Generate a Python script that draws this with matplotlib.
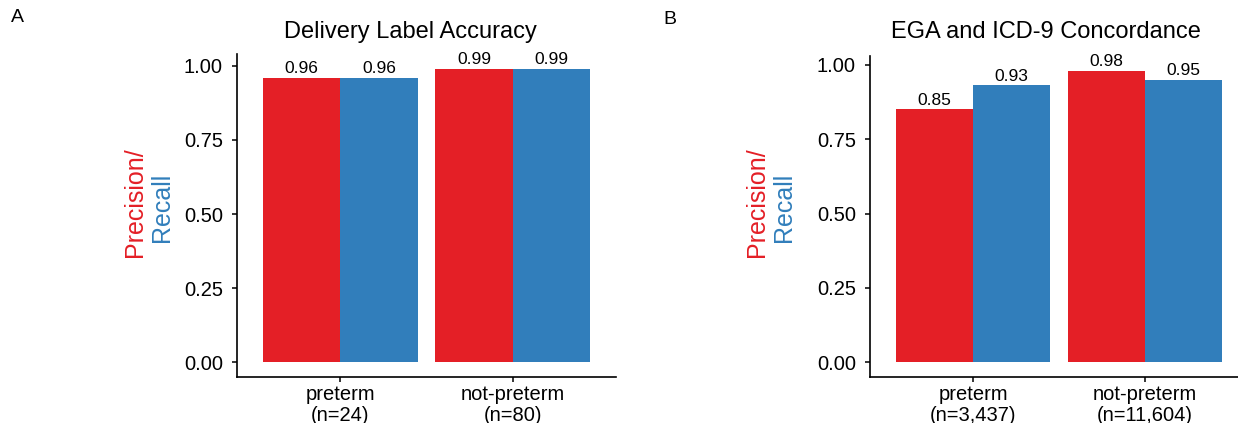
import matplotlib.pyplot as plt
import numpy as np

plt.rcParams['font.family'] = ['Liberation Sans', 'DejaVu Sans']

# Data to plot
categories_a = ["preterm\n(n=24)", "not-preterm\n(n=80)"]
precision_a = [0.96, 0.99]
recall_a = [0.96, 0.99]

categories_b = ["preterm\n(n=3,437)", "not-preterm\n(n=11,604)"]
precision_b = [0.85, 0.98]
recall_b = [0.93, 0.95]

RED = "#E41F26"
BLUE = "#317EBB"
W, H = 1238, 423


def DrawPanel(rect, title, title_x, cats, prec, rec, ylabel_x):
    ax = fig.add_axes(rect)
    x = np.arange(len(cats))
    ax.bar(x - 0.225, prec, width=0.45, color=RED)
    ax.bar(x + 0.225, rec, width=0.45, color=BLUE)

    # value labels on top of the bars
    for i in range(len(cats)):
        ax.annotate("%.2f" % prec[i], (x[i] - 0.225, prec[i]), xytext=(0, 1),
                    textcoords="offset points", ha="center", va="bottom", fontsize=12.5)
        ax.annotate("%.2f" % rec[i], (x[i] + 0.225, rec[i]), xytext=(0, 1),
                    textcoords="offset points", ha="center", va="bottom", fontsize=12.5)

    top = max(max(prec), max(rec))
    ax.set_xlim(-0.6, len(cats) - 0.4)
    ax.set_ylim(-0.05 * top, top * 1.05)
    ax.set_xticks(x)
    ax.set_xticklabels(cats, fontsize=14.5, linespacing=1.15)
    ax.set_yticks([0, 0.25, 0.5, 0.75, 1.0])
    ax.set_yticklabels(["0.00", "0.25", "0.50", "0.75", "1.00"], fontsize=14.5)
    ax.tick_params(axis="x", length=3.6, width=1.1, color="black", pad=2)
    ax.tick_params(axis="y", length=3.6, width=1.1, color="black", pad=6.5)
    for s in ["top", "right"]:
        ax.spines[s].set_visible(False)
    for s in ["left", "bottom"]:
        ax.spines[s].set_linewidth(1.2)
    fig.text(title_x / W, 1 - 32 / H, title, fontsize=17, ha="center", va="center")

    # two-coloured y label
    fig.text(ylabel_x / W, 1 - 202 / H, "Precision/", color=RED, rotation=90,
             ha="center", va="center", fontsize=18)
    fig.text((ylabel_x + 27) / W, 1 - 207 / H, "Recall", color=BLUE, rotation=90,
             ha="center", va="center", fontsize=18)
    return ax


fig = plt.figure(figsize=(W / 100, H / 100), dpi=100)

DrawPanel([237 / W, 46 / H, 379 / W, 323 / H], "Delivery Label Accuracy", 410,
          categories_a, precision_a, recall_a, 135)
DrawPanel([870 / W, 46 / H, 378 / W, 321 / H], "EGA and ICD-9 Concordance", 1046,
          categories_b, precision_b, recall_b, 757)

fig.text(17 / W, 1 - 18 / H, "A", fontsize=14, ha="center", va="center")
fig.text(670 / W, 1 - 20 / H, "B", fontsize=14, ha="center", va="center")

plt.savefig("out.png", dpi=100)
